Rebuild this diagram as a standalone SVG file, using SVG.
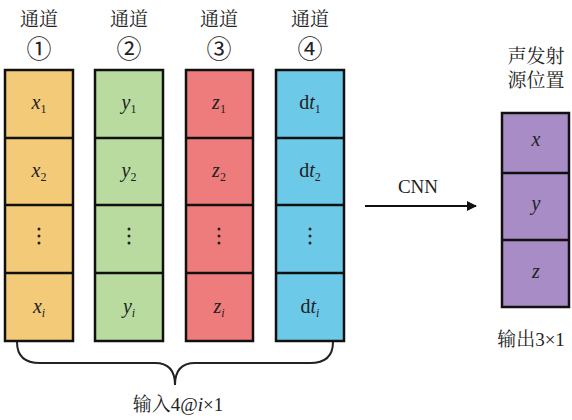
<svg xmlns="http://www.w3.org/2000/svg" width="572" height="420" viewBox="0 0 572 420">
<style>
.cell{stroke:#111;stroke-width:2.5}
.o{fill:#F3CA78}.g{fill:#B9DB9F}.r{fill:#EF7C7D}.b{fill:#6DC9E8}.p{fill:#A88CC5}
.cn{font-family:"Liberation Serif","Noto Serif CJK SC","Noto Sans CJK SC",serif;font-size:19px;fill:#222;text-anchor:middle}
.num{font-family:"Noto Sans CJK SC",serif;font-size:25px;fill:#222;text-anchor:middle}
.v{font-family:"Liberation Serif",serif;font-style:italic;font-size:20px;fill:#222;text-anchor:middle}
.sub{font-style:normal;font-size:12px}
.subi{font-style:italic;font-size:12px}
.t{font-family:"Liberation Serif",serif;font-size:19px;fill:#222;text-anchor:middle}
.dot{fill:#222}
</style>
<defs>
<marker id="ah" markerWidth="10" markerHeight="10" refX="9" refY="5" orient="auto" markerUnits="userSpaceOnUse">
<path d="M0,0 L10,5 L0,10 Z" fill="#111"/>
</marker>
</defs>
<g id="ch1">
<text class="cn" x="39" y="26">通道</text>
<text class="num" x="39" y="58">①</text>
<rect class="cell o" x="5" y="70" width="68" height="271"/>
<line class="cell" x1="5" y1="138" x2="73" y2="138"/>
<line class="cell" x1="5" y1="205" x2="73" y2="205"/>
<line class="cell" x1="5" y1="273" x2="73" y2="273"/>
<text class="v" x="39" y="109">x<tspan class="sub" dy="4">1</tspan></text>
<text class="v" x="39" y="177">x<tspan class="sub" dy="4">2</tspan></text>
<circle class="dot" cx="39" cy="229" r="1.5"/><circle class="dot" cx="39" cy="236" r="1.5"/><circle class="dot" cx="39" cy="243" r="1.5"/>
<text class="v" x="39" y="313">x<tspan class="subi" dy="4">i</tspan></text>
</g>
<g id="ch2">
<text class="cn" x="129" y="26">通道</text>
<text class="num" x="129" y="58">②</text>
<rect class="cell g" x="95" y="70" width="68" height="271"/>
<line class="cell" x1="95" y1="138" x2="163" y2="138"/>
<line class="cell" x1="95" y1="205" x2="163" y2="205"/>
<line class="cell" x1="95" y1="273" x2="163" y2="273"/>
<text class="v" x="129" y="109">y<tspan class="sub" dy="4">1</tspan></text>
<text class="v" x="129" y="177">y<tspan class="sub" dy="4">2</tspan></text>
<circle class="dot" cx="129" cy="229" r="1.5"/><circle class="dot" cx="129" cy="236" r="1.5"/><circle class="dot" cx="129" cy="243" r="1.5"/>
<text class="v" x="129" y="313">y<tspan class="subi" dy="4">i</tspan></text>
</g>
<g id="ch3">
<text class="cn" x="219" y="26">通道</text>
<text class="num" x="219" y="58">③</text>
<rect class="cell r" x="186" y="70" width="67" height="271"/>
<line class="cell" x1="186" y1="138" x2="253" y2="138"/>
<line class="cell" x1="186" y1="205" x2="253" y2="205"/>
<line class="cell" x1="186" y1="273" x2="253" y2="273"/>
<text class="v" x="219" y="109">z<tspan class="sub" dy="4">1</tspan></text>
<text class="v" x="219" y="177">z<tspan class="sub" dy="4">2</tspan></text>
<circle class="dot" cx="219" cy="229" r="1.5"/><circle class="dot" cx="219" cy="236" r="1.5"/><circle class="dot" cx="219" cy="243" r="1.5"/>
<text class="v" x="219" y="313">z<tspan class="subi" dy="4">i</tspan></text>
</g>
<g id="ch4">
<text class="cn" x="310" y="26">通道</text>
<text class="num" x="310" y="58">④</text>
<rect class="cell b" x="276" y="70" width="68" height="271"/>
<line class="cell" x1="276" y1="138" x2="344" y2="138"/>
<line class="cell" x1="276" y1="205" x2="344" y2="205"/>
<line class="cell" x1="276" y1="273" x2="344" y2="273"/>
<text class="v" x="310" y="109"><tspan font-style="normal">d</tspan>t<tspan class="sub" dy="4">1</tspan></text>
<text class="v" x="310" y="177"><tspan font-style="normal">d</tspan>t<tspan class="sub" dy="4">2</tspan></text>
<circle class="dot" cx="310" cy="229" r="1.5"/><circle class="dot" cx="310" cy="236" r="1.5"/><circle class="dot" cx="310" cy="243" r="1.5"/>
<text class="v" x="310" y="313"><tspan font-style="normal">d</tspan>t<tspan class="subi" dy="4">i</tspan></text>
</g>
<g id="output">
<text class="cn" x="536" y="63">声发射</text>
<text class="cn" x="536" y="87">源位置</text>
<rect class="cell p" x="502" y="113" width="67" height="194"/>
<line class="cell" x1="502" y1="173" x2="569" y2="173"/>
<line class="cell" x1="502" y1="240" x2="569" y2="240"/>
<text class="v" x="536" y="146">x</text>
<text class="v" x="536" y="210">y</text>
<text class="v" x="536" y="278">z</text>
<text class="cn" x="531" y="346">输出3×1</text>
</g>
<g id="input-label">
<text class="cn" x="178" y="411">输入4@<tspan font-style="italic">i</tspan>×1</text>
</g>
<g id="connectors">
<path d="M17,342 Q17,363 40,363 L155,363 Q175,363 175,385 Q175,363 195,363 L310,363 Q333,363 333,342" fill="none" stroke="#222" stroke-width="2"/>
<line x1="365" y1="206" x2="476" y2="206" stroke="#111" stroke-width="2.2" marker-end="url(#ah)"/>
<text class="t" x="418" y="193">CNN</text>
</g>
</svg>
